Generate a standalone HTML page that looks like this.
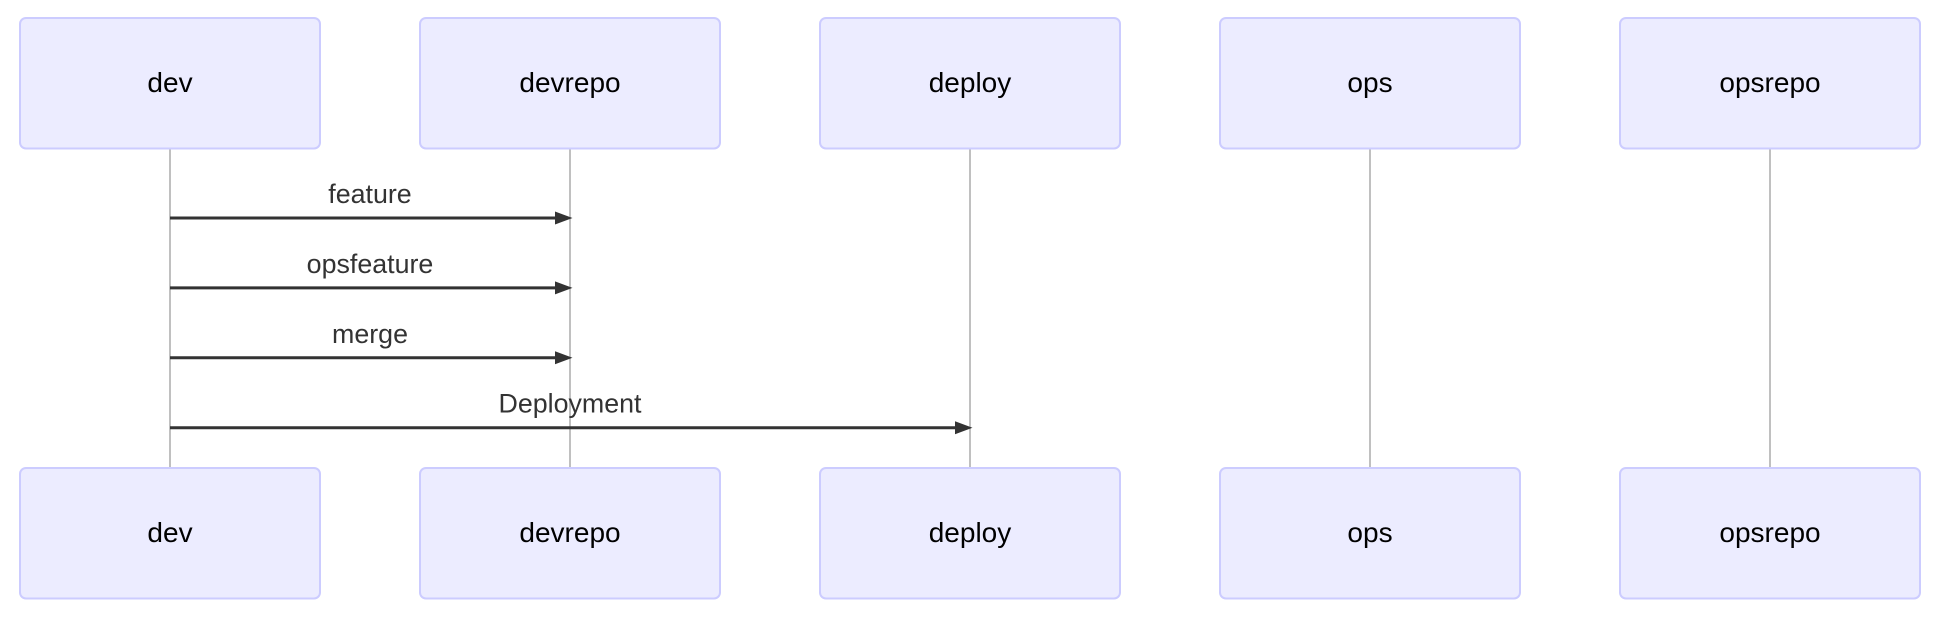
<!DOCTYPE html>
<html lang="en">
<head>
<meta charset="utf-8">
<title>Sequence diagram</title>
<style>
html,body{margin:0;padding:0;background:#fff;width:1940px;height:620px;overflow:hidden}
svg{display:block}
text{font-family:"Liberation Sans",Arial,sans-serif;text-anchor:middle}
</style>
</head>
<body>
<svg id="diagram" xmlns="http://www.w3.org/2000/svg" width="1940" height="620" viewBox="0 0 1940 620"></svg>
<script>
const actors = ["dev", "devrepo", "deploy", "ops", "opsrepo"];
const messageLabels = ["feature", "opsfeature", "merge", "Deployment"];
const messageFrom = [0, 0, 0, 0];
const messageTo = [1, 1, 1, 2];

const NS = "http://www.w3.org/2000/svg";
const svg = document.getElementById("diagram");
function actorX(i) { return 170 + i * 400; }
function messageY(i) { return 218 + i * 69.9; }
function make(tag, attrs, parent) {
  const el = document.createElementNS(NS, tag);
  for (const k in attrs) el.setAttribute(k, attrs[k]);
  (parent || svg).appendChild(el);
  return el;
}
const BOX_W = 300, BOX_H = 130.5, TOP_Y = 18, BOTTOM_Y = 468;

actors.forEach(function (name, i) {
  const x = actorX(i);
  const line = make("line", {x1: x, x2: x, y1: TOP_Y + BOX_H, y2: BOTTOM_Y, stroke: "#b5b5b5", "stroke-width": 1.7});
  
  
});

[["top", TOP_Y, 92], ["bottom", BOTTOM_Y, 542]].forEach(function (row) {
  actors.forEach(function (name, i) {
    const x = actorX(i);
    const rect = make("rect", {x: x - BOX_W / 2, y: row[1], width: BOX_W, height: BOX_H, rx: 6, ry: 6, fill: "#ECECFF", stroke: "#CCCCFF", "stroke-width": 2});
    
    
    const label = make("text", {x: x, y: row[2], "font-size": 28, fill: "#000"});
    label.textContent = name;
    
    
  });
});

messageLabels.forEach(function (text, i) {
  const x1 = actorX(messageFrom[i]);
  const x2 = actorX(messageTo[i]);
  const y = messageY(i);
  const line = make("line", {x1: x1, x2: x2 - 14, y1: y, y2: y, stroke: "#333", "stroke-width": 3});
  
  
  const head = make("polygon", {points: [(x2 - 15) + "," + (y - 6.5), (x2 + 2.5) + "," + y, (x2 - 15) + "," + (y + 6.5)].join(" "), fill: "#333"});
  
  
  const label = make("text", {x: (x1 + x2) / 2, y: y - 15, "font-size": 26.8, fill: "#333"});
  label.textContent = text;
  
  
});
</script>
</body>
</html>
